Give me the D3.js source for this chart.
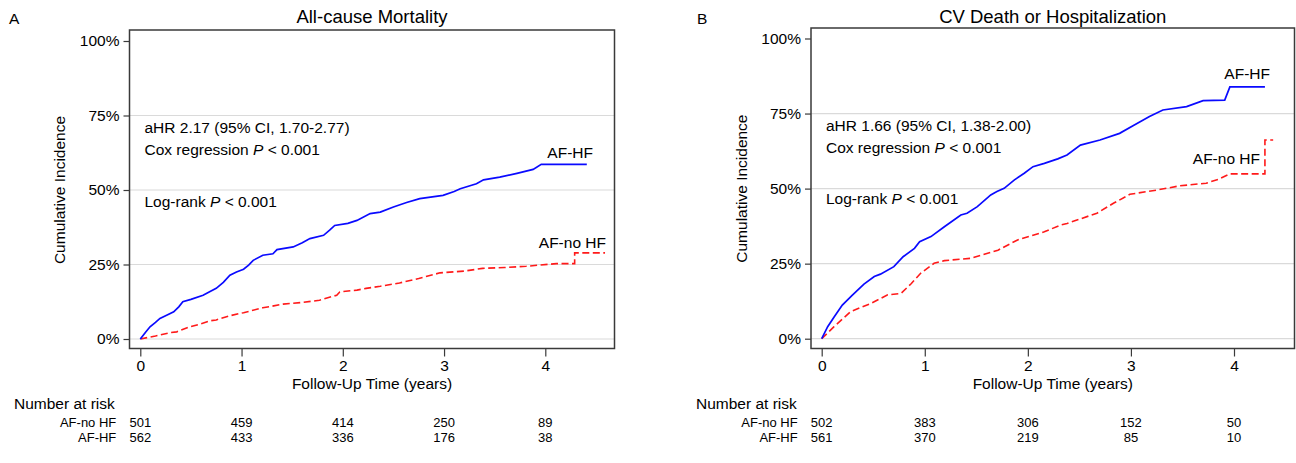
<!DOCTYPE html>
<html><head><meta charset="utf-8">
<script src="https://cdn.jsdelivr.net/npm/d3@7"></script>
<style>
body{margin:0;background:#fff}
svg{display:block}
text{font-family:"Liberation Sans",Arial,Helvetica,sans-serif;fill:#000}
</style>
</head><body>
<svg id="c" width="1296" height="463"></svg>
<script>
// ---------- data ----------
const yearTicks = [0, 1, 2, 3, 4];
const pctTicks = [0, 25, 50, 75, 100];
const gridTicks = [0, 25, 50, 75];
const riskGroups = ["AF-no HF", "AF-HF"];

// Panel A: All-cause mortality
const titleA = "All-cause Mortality";
const statsA = ["aHR 2.17 (95% CI, 1.70-2.77)", "Cox regression", "Log-rank"];
const atRiskA_noHF = [501, 459, 414, 250, 89];
const atRiskA_HF = [562, 433, 336, 176, 38];
const timeA_HF = [0,0.05,0.096,0.15,0.194,0.26,0.33,0.38,0.42,0.5,0.62,0.68,0.75,0.82,0.885,0.95,1.02,1.07,1.115,1.21,1.31,1.35,1.51,1.6,1.675,1.81,1.87,1.92,2.05,2.14,2.27,2.37,2.5,2.63,2.76,2.99,3.1,3.16,3.32,3.39,3.55,3.72,3.88,3.96,4.41];
const incA_HF = [0,2.2,4.1,5.6,6.9,8.0,9.1,10.8,12.5,13.3,14.7,15.8,17.0,19.0,21.4,22.5,23.4,24.8,26.4,28.1,28.6,30.0,30.9,32.3,33.7,34.8,36.5,38.1,38.8,39.8,42.1,42.6,44.3,45.8,47.1,48.2,49.5,50.4,52.1,53.4,54.3,55.6,56.9,58.6,58.6];
const timeA_noHF = [0,0.15,0.29,0.36,0.49,0.59,0.69,0.75,0.885,0.98,1.02,1.21,1.3,1.41,1.61,1.77,1.94,1.97,2.14,2.23,2.37,2.56,2.75,2.96,3.2,3.38,3.6,3.81,4.11,4.29,4.29,4.59];
const incA_noHF = [0,1.0,2.1,2.4,4.1,5.0,6.1,6.4,7.8,8.6,8.8,10.5,11.0,11.7,12.3,13.0,14.7,15.8,16.4,17.0,17.7,18.8,20.3,22.2,22.8,23.7,24.0,24.4,25.3,25.3,28.9,28.9];

// Panel B: CV death or hospitalization
const titleB = "CV Death or Hospitalization";
const statsB = ["aHR 1.66 (95% CI, 1.38-2.00)", "Cox regression", "Log-rank"];
const atRiskB_noHF = [502, 383, 306, 152, 50];
const atRiskB_HF = [561, 370, 219, 85, 10];
const timeB_HF = [0,0.058,0.122,0.2,0.3,0.41,0.51,0.57,0.7,0.79,0.9,0.95,1.06,1.19,1.35,1.41,1.51,1.64,1.70,1.77,1.87,1.965,2.05,2.16,2.29,2.38,2.51,2.70,2.89,3.02,3.18,3.31,3.54,3.70,3.91,3.96,4.30];
const incB_HF = [0,4.0,7.3,11.2,14.6,18.2,20.7,21.5,24.0,27.3,30.1,32.3,34.0,37.3,41.2,41.8,44.0,47.9,49.0,50.1,52.9,55.1,57.3,58.4,59.9,61.2,64.5,66.2,68.4,70.9,74.0,76.2,77.3,79.3,79.5,83.9,83.9];
const timeB_noHF = [0,0.12,0.28,0.48,0.64,0.77,0.87,0.96,1.09,1.19,1.45,1.71,1.90,2.16,2.32,2.38,2.67,2.83,2.99,3.15,3.25,3.47,3.73,3.85,3.96,4.30,4.30,4.38];
const incB_noHF = [0,4.0,9.0,11.8,14.6,15.1,18.4,21.8,25.1,26.0,26.8,29.5,32.9,35.6,37.9,38.4,41.8,45.1,48.1,49.0,49.5,50.9,51.8,53.1,54.9,54.9,66.2,66.2];

// ---------- drawing ----------
const svg = d3.select("#c");
const FS = 15.5;

function panel(cfg) {
  const g = svg.append("g");
  const x = d3.scaleLinear().domain([0, 4]).range([cfg.x0, cfg.x4]);
  const y = d3.scaleLinear().domain([0, 100]).range([cfg.y0, cfg.y100]);

  // grid
  g.selectAll(".grid").data(gridTicks).enter().append("line")
    .attr("x1", cfg.fl).attr("x2", cfg.fr)
    .attr("y1", d => y(d)).attr("y2", d => y(d))
    .attr("stroke", "#dadada").attr("stroke-width", 1.2);

  // curves
  const line = d3.line().x(d => x(d[0])).y(d => y(d[1]));
  const hf = cfg.tHF.map((t, i) => [t, cfg.vHF[i]]);
  const nohf = cfg.tNo.map((t, i) => [t, cfg.vNo[i]]);
  g.append("path").attr("d", line(nohf)).attr("fill", "none")
    .attr("stroke", "#ff1a1a").attr("stroke-width", 1.6).attr("stroke-dasharray", "7,3.5");
  g.append("path").attr("d", line(hf)).attr("fill", "none")
    .attr("stroke", "#0a0aff").attr("stroke-width", 1.7);

  // frame
  g.append("rect").attr("x", cfg.fl).attr("y", cfg.ft)
    .attr("width", cfg.fr - cfg.fl).attr("height", cfg.fb - cfg.ft)
    .attr("fill", "none").attr("stroke", "#3a3a3a").attr("stroke-width", 1.5);

  // y axis
  const ya = d3.axisLeft(y).tickValues(pctTicks).tickFormat(d => d + "%").tickSize(6).tickPadding(4);
  const yg = g.append("g").attr("transform", `translate(${cfg.fl},0)`).call(ya);
  yg.select(".domain").remove();
  yg.selectAll("line").attr("stroke", "#3a3a3a").attr("stroke-width", 1.2);
  yg.selectAll("text").attr("font-size", FS).attr("font-family", null);

  // x axis
  const xa = d3.axisBottom(x).tickValues(yearTicks).tickFormat(d3.format("d")).tickSize(8).tickPadding(3);
  const xg = g.append("g").attr("transform", `translate(0,${cfg.fb})`).call(xa);
  xg.select(".domain").remove();
  xg.selectAll("line").attr("stroke", "#3a3a3a").attr("stroke-width", 1.2);
  xg.selectAll("text").attr("font-size", FS).attr("font-family", null);

  // titles
  g.append("text").attr("x", (cfg.fl + cfg.fr) / 2).attr("y", 23).attr("text-anchor", "middle")
    .attr("font-size", 18.5).text(cfg.title);
  g.append("text").attr("x", cfg.letterX).attr("y", 24).attr("font-size", FS).text(cfg.letter);
  g.append("text").attr("transform", `translate(${cfg.yTitleX},${(cfg.y0 + cfg.y100) / 2}) rotate(-90)`)
    .attr("text-anchor", "middle").attr("dy", "0.35em").attr("font-size", FS).text("Cumulative Incidence");
  g.append("text").attr("x", (cfg.fl + cfg.fr) / 2).attr("y", 389).attr("text-anchor", "middle")
    .attr("font-size", FS).text("Follow-Up Time (years)");

  // stats
  const sx = cfg.fl + 15;
  g.append("text").attr("x", sx).attr("y", cfg.sy[0]).attr("font-size", FS).text(cfg.stats[0]);
  [1, 2].forEach(k => {
    const t = g.append("text").attr("x", sx).attr("y", cfg.sy[k]).attr("font-size", FS);
    t.append("tspan").text(cfg.stats[k] + " ");
    t.append("tspan").attr("font-style", "italic").text("P");
    t.append("tspan").text(" < 0.001");
  });

  // series labels
  g.append("text").attr("x", cfg.hfLab[0]).attr("y", cfg.hfLab[1]).attr("text-anchor", "end")
    .attr("font-size", FS).text(riskGroups[1]);
  g.append("text").attr("x", cfg.noLab[0]).attr("y", cfg.noLab[1]).attr("text-anchor", "end")
    .attr("font-size", FS).text(riskGroups[0]);

  // number at risk
  g.append("text").attr("x", cfg.narX).attr("y", 409).attr("font-size", FS).text("Number at risk");
  const rows = [cfg.riskNo, cfg.riskHF];
  rows.forEach((r, i) => {
    const ry = 426.5 + i * 15.5;
    g.append("text").attr("x", cfg.x0 - 24).attr("y", ry).attr("text-anchor", "end")
      .attr("font-size", 13).text(riskGroups[i]);
    g.selectAll(null).data(r).enter().append("text")
      .attr("x", (d, j) => x(yearTicks[j])).attr("y", ry).attr("text-anchor", "middle")
      .attr("font-size", 13).text(d => d);
  });
}

panel({
  letter: "A", letterX: 9, title: titleA, stats: statsA,
  x0: 140.3, x4: 545.3, y0: 339, y100: 41,
  fl: 129.5, fr: 614.5, ft: 30, fb: 348.5,
  yTitleX: 60, sy: [133, 154.5, 206.5],
  hfLab: [593, 158], noLab: [606, 248], narX: 14,
  tHF: timeA_HF, vHF: incA_HF, tNo: timeA_noHF, vNo: incA_noHF,
  riskNo: atRiskA_noHF, riskHF: atRiskA_HF
});
panel({
  letter: "B", letterX: 697, title: titleB, stats: statsB,
  x0: 821.7, x4: 1234, y0: 338.7, y100: 38.5,
  fl: 811, fr: 1294.5, ft: 28, fb: 348.5,
  yTitleX: 741.5, sy: [131, 153, 204],
  hfLab: [1270, 79], noLab: [1260, 164], narX: 696,
  tHF: timeB_HF, vHF: incB_HF, tNo: timeB_noHF, vNo: incB_noHF,
  riskNo: atRiskB_noHF, riskHF: atRiskB_HF
});
</script>
</body></html>
